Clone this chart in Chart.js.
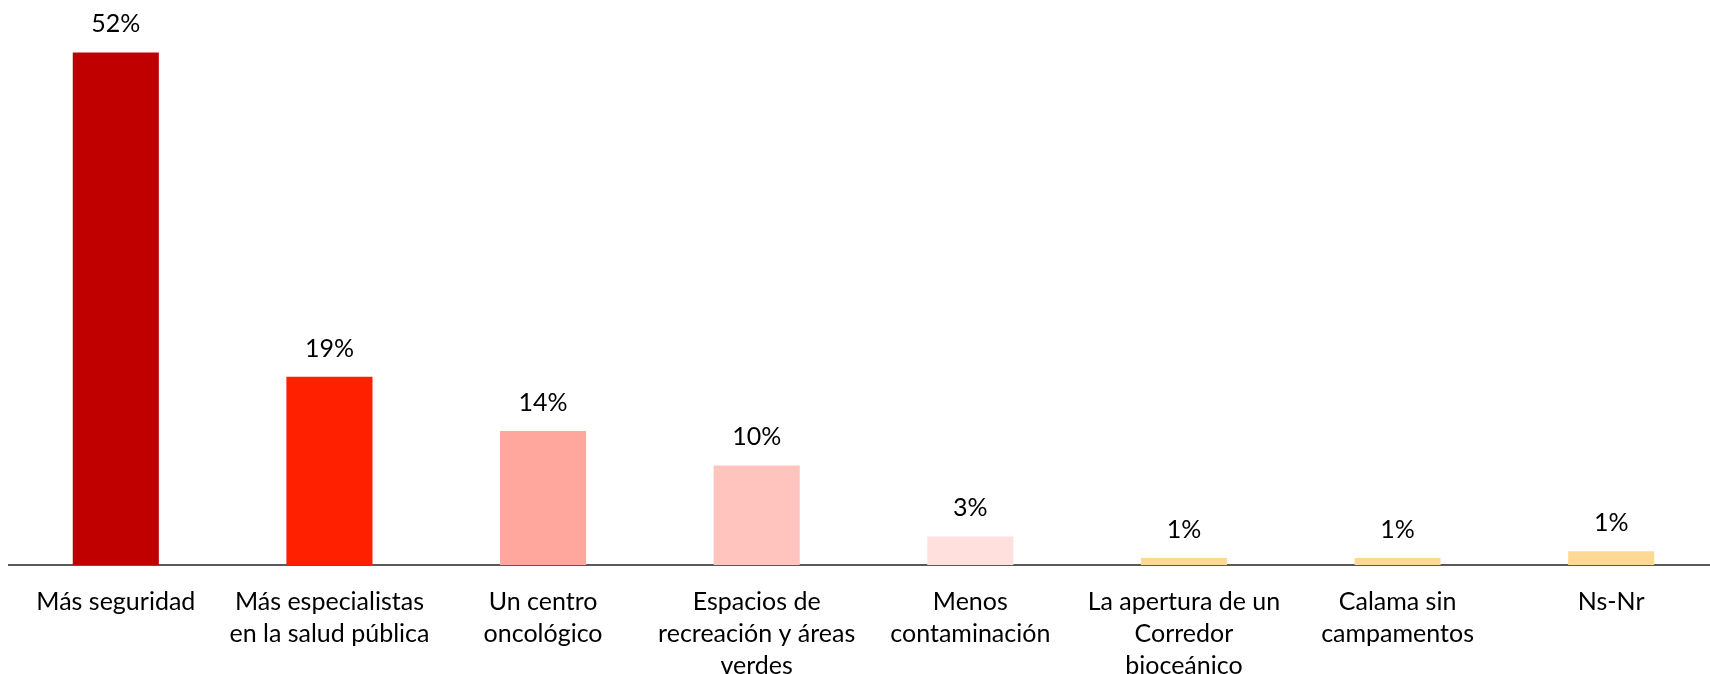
<!DOCTYPE html>
<html>
<head>
<meta charset="utf-8">
<script src="https://cdn.jsdelivr.net/npm/chart.js@4"></script>
<style>
  html, body { margin: 0; padding: 0; background: #fff; overflow: hidden; }
  #wrap { width: 1720px; height: 674px; }
</style>
</head>
<body>
<div id="wrap"><canvas id="chart"></canvas></div>
<script>
const categories = [
  'Más seguridad',
  ['Más especialistas', 'en la salud pública'],
  ['Un centro', 'oncológico'],
  ['Espacios de', 'recreación y áreas', 'verdes'],
  ['Menos', 'contaminación'],
  ['La apertura de un', 'Corredor', 'bioceánico'],
  ['Calama sin', 'campamentos'],
  'Ns-Nr'
];
const values = [52, 19.1, 13.6, 10.1, 2.9, 0.7, 0.7, 1.4];
const barColors = ['#C00000', '#FF2000', '#FFA79D', '#FFC4BE', '#FFE0DD', '#FFD993', '#FFD993', '#FFD993'];

// labels above bars
const valueLabels = {
  id: 'valueLabels',
  afterDatasetsDraw(chart) {
    const ctx = chart.ctx;
    const meta = chart.getDatasetMeta(0);
    ctx.save();
    ctx.font = '25px Lato';
    ctx.fillStyle = '#000';
    ctx.textAlign = 'center';
    ctx.textBaseline = 'alphabetic';
    meta.data.forEach((bar, i) => {
      ctx.fillText(Math.round(values[i]) + '%', bar.x, bar.y - 20);
    });
    ctx.restore();
  }
};

new Chart('chart', {
  type: 'bar',
  data: {
    labels: categories,
    datasets: [{
      data: values,
      backgroundColor: barColors,
      borderWidth: 0,
      categoryPercentage: 1,
      barPercentage: 0.403
    }]
  },
  options: {
    responsive: true,
    maintainAspectRatio: false,
    animation: false,
    layout: { padding: { top: 13, left: 9, right: 2, bottom: 0 } },
    plugins: {
      legend: { display: false },
      tooltip: { enabled: false }
    },
    scales: {
      x: {
        grid: { display: false, drawTicks: false },
        border: { display: true, color: '#595959', width: 2 },
        ticks: {
          color: '#000',
          padding: 21,
          maxRotation: 0,
          autoSkip: false,
          font: { family: 'Lato', size: 25, lineHeight: '32px' }
        },
        afterFit: (scale) => { scale.height = 109; }
      },
      y: {
        display: false,
        min: 0,
        max: 56
      }
    }
  },
  plugins: [valueLabels]
});
</script>
</body>
</html>
